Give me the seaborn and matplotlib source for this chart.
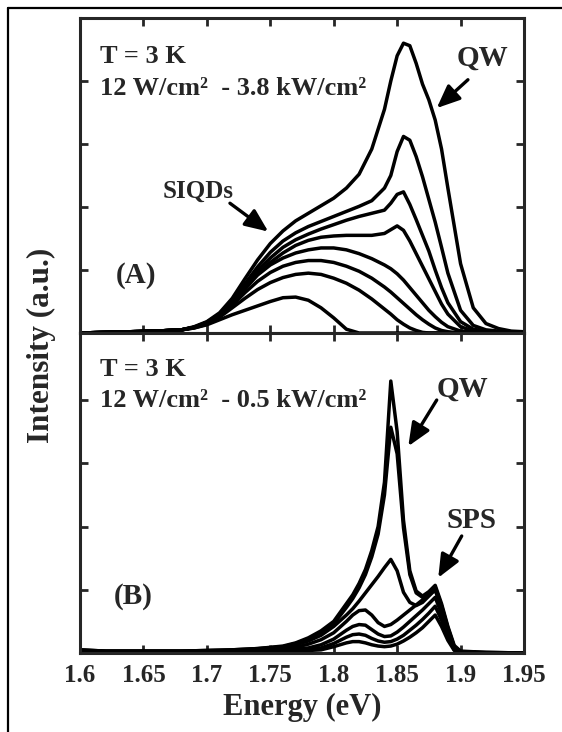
import pandas as pd
import seaborn as sns
import matplotlib.pyplot as plt
from matplotlib.lines import Line2D

# energy grids (eV)
energy_a = [1.60, 1.62, 1.64, 1.66, 1.68, 1.69, 1.70, 1.71, 1.72, 1.73, 1.74, 1.75, 1.76,
            1.77, 1.78, 1.79, 1.80, 1.81, 1.82, 1.83, 1.84, 1.845, 1.85, 1.855, 1.86,
            1.865, 1.87, 1.875, 1.88, 1.885, 1.89, 1.90, 1.91, 1.92, 1.93, 1.94, 1.95]
energy_b = [1.60, 1.62, 1.64, 1.66, 1.68, 1.70, 1.72, 1.74, 1.76, 1.77, 1.78, 1.79, 1.80,
            1.81, 1.815, 1.82, 1.825, 1.83, 1.835, 1.84, 1.845, 1.85, 1.855, 1.86, 1.865,
            1.87, 1.875, 1.88, 1.885, 1.89, 1.895, 1.90, 1.92, 1.95]

# panel (A): 12 W/cm2 - 3.8 kW/cm2, highest power first
a1 = [0.00, 0.01, 0.02, 0.03, 0.05, 0.10, 0.18, 0.32, 0.55, 0.86, 1.16, 1.42, 1.62, 1.78, 1.90,
      2.02, 2.14, 2.30, 2.52, 2.92, 3.55, 4.00, 4.40, 4.60, 4.56, 4.28, 3.95, 3.70, 3.38, 2.92,
      2.30, 1.10, 0.40, 0.15, 0.07, 0.03, 0.02]
a2 = [0.00, 0.01, 0.02, 0.03, 0.05, 0.09, 0.17, 0.30, 0.50, 0.78, 1.05, 1.28, 1.46, 1.59, 1.69,
      1.77, 1.85, 1.93, 2.01, 2.10, 2.30, 2.50, 2.88, 3.12, 3.06, 2.80, 2.48, 2.12, 1.76, 1.36,
      0.95, 0.36, 0.12, 0.05, 0.03, 0.02, 0.01]
a3 = [0.00, 0.01, 0.02, 0.03, 0.05, 0.09, 0.17, 0.29, 0.48, 0.74, 0.99, 1.19, 1.36, 1.48, 1.57,
      1.65, 1.72, 1.79, 1.85, 1.90, 1.95, 2.06, 2.20, 2.24, 2.04, 1.80, 1.55, 1.30, 1.00, 0.72,
      0.48, 0.18, 0.06, 0.03, 0.02, 0.01, 0.01]
a4 = [0.00, 0.01, 0.02, 0.03, 0.05, 0.09, 0.16, 0.28, 0.46, 0.70, 0.94, 1.12, 1.27, 1.39, 1.47,
      1.52, 1.54, 1.55, 1.55, 1.55, 1.58, 1.64, 1.70, 1.63, 1.46, 1.26, 1.06, 0.86, 0.66, 0.46,
      0.30, 0.10, 0.03, 0.01, 0.01, 0.00, 0.00]
a5 = [0.00, 0.01, 0.02, 0.03, 0.05, 0.09, 0.16, 0.28, 0.46, 0.70, 0.92, 1.08, 1.19, 1.27, 1.32,
      1.35, 1.35, 1.32, 1.26, 1.18, 1.08, 1.02, 0.94, 0.84, 0.72, 0.60, 0.48, 0.36, 0.26, 0.17,
      0.10, 0.03, 0.01, 0.00, 0.00, 0.00, 0.00]
a6 = [0.00, 0.01, 0.02, 0.03, 0.05, 0.09, 0.15, 0.27, 0.44, 0.64, 0.82, 0.96, 1.06, 1.12, 1.15,
      1.15, 1.12, 1.06, 0.98, 0.87, 0.73, 0.65, 0.56, 0.47, 0.38, 0.29, 0.21, 0.14, 0.08, 0.04,
      0.02, 0.00, 0.00, 0.00, 0.00, 0.00, 0.00]
a7 = [0.00, 0.01, 0.02, 0.03, 0.05, 0.08, 0.14, 0.25, 0.40, 0.55, 0.69, 0.80, 0.88, 0.93, 0.95,
      0.93, 0.87, 0.79, 0.68, 0.54, 0.38, 0.30, 0.21, 0.14, 0.08, 0.04, 0.01, 0.00, 0.00, 0.00,
      0.00, 0.00, 0.00, 0.00, 0.00, 0.00, 0.00]
a8 = [0.00, 0.01, 0.02, 0.03, 0.05, 0.08, 0.13, 0.21, 0.29, 0.36, 0.43, 0.50, 0.56, 0.57, 0.52,
      0.40, 0.24, 0.06, 0.00, 0.00, 0.00, 0.00, 0.00, 0.00, 0.00, 0.00, 0.00, 0.00, 0.00, 0.00,
      0.00, 0.00, 0.00, 0.00, 0.00, 0.00, 0.00]

# panel (B): 12 W/cm2 - 0.5 kW/cm2
b1 = [0.05, 0.03, 0.03, 0.03, 0.03, 0.04, 0.05, 0.07, 0.11, 0.16, 0.24, 0.35, 0.50, 0.78, 0.92,
      1.10, 1.32, 1.62, 2.00, 2.70, 4.30, 3.50, 2.10, 1.30, 0.98, 0.90, 0.97, 1.07, 0.78, 0.42,
      0.12, 0.03, 0.01, 0.00]
b2 = [0.05, 0.03, 0.03, 0.03, 0.03, 0.04, 0.05, 0.07, 0.10, 0.15, 0.22, 0.32, 0.46, 0.72, 0.86,
      1.03, 1.24, 1.52, 1.88, 2.50, 3.57, 3.15, 1.98, 1.24, 0.95, 0.88, 0.95, 1.04, 0.75, 0.40,
      0.10, 0.02, 0.01, 0.00]
b3 = [0.04, 0.03, 0.03, 0.03, 0.03, 0.03, 0.04, 0.06, 0.09, 0.13, 0.19, 0.28, 0.42, 0.60, 0.70,
      0.82, 0.95, 1.08, 1.21, 1.35, 1.48, 1.30, 0.96, 0.80, 0.75, 0.80, 0.90, 1.00, 0.72, 0.38,
      0.09, 0.02, 0.00, 0.00]
b4 = [0.03, 0.02, 0.02, 0.02, 0.02, 0.02, 0.03, 0.04, 0.06, 0.09, 0.14, 0.21, 0.32, 0.50, 0.60,
      0.67, 0.68, 0.60, 0.48, 0.42, 0.45, 0.52, 0.60, 0.68, 0.76, 0.84, 0.92, 1.00, 0.70, 0.35,
      0.08, 0.01, 0.00, 0.00]
b5 = [0.02, 0.02, 0.02, 0.02, 0.02, 0.02, 0.02, 0.03, 0.04, 0.06, 0.08, 0.13, 0.22, 0.36, 0.42,
      0.45, 0.44, 0.37, 0.30, 0.26, 0.27, 0.33, 0.41, 0.50, 0.59, 0.68, 0.78, 0.88, 0.62, 0.30,
      0.06, 0.01, 0.00, 0.00]
b6 = [0.02, 0.02, 0.02, 0.02, 0.02, 0.02, 0.02, 0.02, 0.03, 0.04, 0.05, 0.08, 0.15, 0.25, 0.29,
      0.30, 0.28, 0.23, 0.19, 0.17, 0.18, 0.22, 0.28, 0.36, 0.44, 0.53, 0.63, 0.74, 0.52, 0.25,
      0.05, 0.01, 0.00, 0.00]
b7 = [0.02, 0.02, 0.02, 0.02, 0.02, 0.02, 0.02, 0.02, 0.02, 0.03, 0.04, 0.05, 0.10, 0.16, 0.18,
      0.18, 0.16, 0.13, 0.11, 0.10, 0.11, 0.14, 0.19, 0.25, 0.32, 0.40, 0.50, 0.60, 0.42, 0.20,
      0.04, 0.01, 0.00, 0.00]

x_ticks = [1.6, 1.65, 1.7, 1.75, 1.8, 1.85, 1.9, 1.95]
x_tick_labels = ["1.6", "1.65", "1.7", "1.75", "1.8", "1.85", "1.9", "1.95"]


def long_table(energy, curves):
    rows = []
    for i, vals in enumerate(curves):
        for e, v in zip(energy, vals):
            rows.append({"energy": e, "intensity": v, "curve": i})
    return pd.DataFrame(rows)


df_a = long_table(energy_a, [a1, a2, a3, a4, a5, a6, a7, a8])
df_b = long_table(energy_b, [b1, b2, b3, b4, b5, b6, b7])

sns.set_style("ticks")
plt.rcParams['font.family'] = ['Liberation Serif', 'DejaVu Serif']
plt.rcParams['font.weight'] = 'bold'

fig = plt.figure(figsize=(5.62, 7.32), dpi=100)
W, H = 562, 732
ax_a = fig.add_axes([80 / W, 1 - 333 / H, 444 / W, 315 / H])
ax_b = fig.add_axes([80 / W, 1 - 653 / H, 444 / W, 320 / H])

for ax, df, top in [(ax_a, df_a, 5.0), (ax_b, df_b, 5.06)]:
    sns.lineplot(data=df, x="energy", y="intensity", units="curve", estimator=None,
                 color="black", linewidth=2.5, ax=ax, legend=False)
    ax.set_xlim(1.6, 1.95)
    ax.set_ylim(0, top)
    ax.set_xticks(x_ticks)
    ax.set_yticks([1, 2, 3, 4])
    ax.set_yticklabels([])
    ax.set_xlabel("")
    ax.set_ylabel("")
    ax.tick_params(direction="in", top=True, right=True, length=6, width=2, pad=8)
    for s in ax.spines.values():
        s.set_linewidth(2.2)

ax_a.set_xticklabels([])
ax_b.set_xticklabels(x_tick_labels, fontsize=18, fontweight="bold")

arrow = dict(arrowstyle="-|>,head_length=0.7,head_width=0.3", lw=2.4, color="black",
             shrinkA=0, shrinkB=0, mutation_scale=20)

# panel (A) texts
ax_a.text(1.6158, 4.29, "T = 3 K", fontsize=19, fontweight="bold", va="baseline")
ax_a.text(1.6158, 3.78, "12 W/cm\u00b2  - 3.8 kW/cm\u00b2", fontsize=19, fontweight="bold",
          va="baseline")
ax_a.text(1.917, 4.24, "QW", fontsize=21, fontweight="bold", ha="center", va="baseline")
ax_a.annotate("", xy=(1.8812, 3.57), xytext=(1.9058, 4.02), arrowprops=arrow)
ax_a.text(1.6934, 2.14, "SIQDs", fontsize=18, fontweight="bold", ha="center", va="baseline")
ax_a.annotate("", xy=(1.7484, 1.61), xytext=(1.7182, 2.06), arrowprops=arrow)
ax_a.text(1.6441, 0.92, "(A)", fontsize=21, fontweight="bold", ha="center", va="center")

# panel (B) texts
ax_b.text(1.6158, 4.38, "T = 3 K", fontsize=19, fontweight="bold", va="baseline")
ax_b.text(1.6158, 3.89, "12 W/cm\u00b2  - 0.5 kW/cm\u00b2", fontsize=19, fontweight="bold",
          va="baseline")
ax_b.text(1.9019, 4.06, "QW", fontsize=21, fontweight="bold", ha="center", va="baseline")
ax_b.annotate("", xy=(1.8588, 3.27), xytext=(1.8812, 4.0), arrowprops=arrow)
ax_b.text(1.909, 1.98, "SPS", fontsize=21, fontweight="bold", ha="center", va="baseline")
ax_b.annotate("", xy=(1.8824, 1.19), xytext=(1.9009, 1.85), arrowprops=arrow)
ax_b.text(1.6418, 0.89, "(B)", fontsize=21, fontweight="bold", ha="center", va="center")

fig.text(302 / W, 1 - 715 / H, "Energy (eV)", fontsize=22, fontweight="bold",
         ha="center", va="baseline")
fig.text(41 / W, 1 - 345 / H, "Intensity (a.u.)", fontsize=22.5, fontweight="bold",
         ha="center", va="center", rotation=90)

# frame around the scanned figure
fig.add_artist(Line2D([8 / W, 8 / W], [0, 1 - 8 / H], transform=fig.transFigure,
                      color="black", lw=1.6))
fig.add_artist(Line2D([8 / W, 1], [1 - 8 / H, 1 - 8 / H], transform=fig.transFigure,
                      color="black", lw=1.6))

fig.savefig("out.png", dpi=100)
